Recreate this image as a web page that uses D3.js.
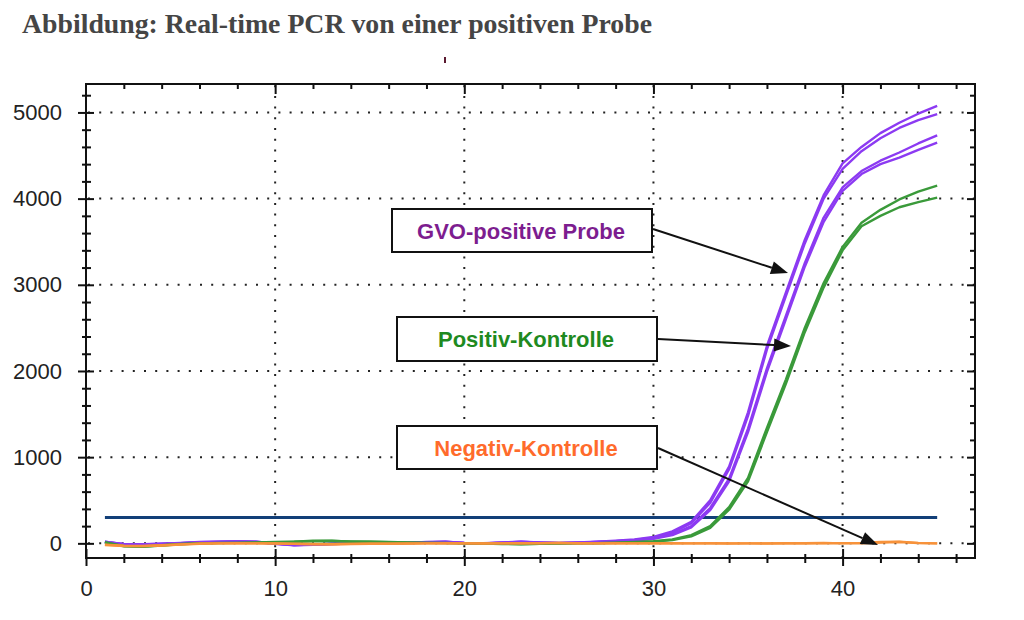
<!DOCTYPE html>
<html>
<head>
<meta charset="utf-8">
<script src="https://cdn.jsdelivr.net/npm/d3@7"></script>
<style>
  html, body { margin: 0; padding: 0; background: #fff; }
  svg { display: block; }
</style>
</head>
<body>
<svg id="chart" width="1024" height="620"></svg>
<script>
// ---------------- DATA ----------------
const cycles = d3.range(1, 46); // 1..45

const gvoA1 = [20,-10,-12,-5,5,15,20,25,20,0,-20,-15,-5,0,0,5,5,15,20,5,0,10,20,10,5,10,18,30,45,75,140,250,500,890,1520,2290,2910,3520,4040,4410,4600,4760,4880,4985,5075];
const gvoA2 = [15,-8,-10,-5,3,12,18,22,18,-2,-18,-12,-5,0,2,5,8,12,15,5,2,8,15,10,5,8,15,25,40,65,125,235,470,860,1480,2250,2870,3480,4000,4345,4550,4700,4820,4910,4980];
const gvoB1 = [18,-12,-15,-8,2,10,15,20,15,-5,-22,-18,-8,-2,0,3,5,10,18,5,0,8,18,8,3,8,15,25,38,58,105,200,410,750,1330,2030,2640,3250,3780,4130,4320,4440,4535,4640,4735];
const gvoB2 = [12,-15,-18,-10,0,8,12,18,12,-5,-20,-15,-8,-2,0,2,4,8,12,3,0,5,12,5,2,5,12,22,33,52,95,185,385,720,1290,1990,2600,3210,3730,4090,4285,4400,4475,4565,4650];

const posK1 = [15,-35,-40,-25,-10,0,5,5,10,15,20,30,30,20,20,15,10,5,5,0,-5,-5,-8,-5,0,0,3,8,15,25,45,95,200,420,760,1340,1900,2500,3020,3440,3720,3870,3990,4080,4150];
const posK2 = [10,-30,-38,-22,-8,0,3,5,8,12,18,25,28,22,18,12,8,5,3,0,-3,-8,-10,-5,-2,0,2,5,10,20,38,82,180,390,720,1290,1850,2450,2970,3400,3680,3800,3900,3960,4012];

const negK1 = [-20,-30,-32,-25,-15,-5,0,0,0,0,-5,-10,-10,-8,-5,-5,-3,0,0,0,0,0,0,2,5,2,0,0,0,2,0,0,2,0,0,-2,0,2,5,0,5,15,20,5,0];
const negK2 = [-15,-28,-30,-22,-12,-3,0,2,0,-2,-6,-8,-10,-6,-4,-3,-2,0,2,0,-2,0,2,3,4,0,0,2,0,0,2,0,0,-2,0,0,2,0,2,3,2,10,15,3,0];

const threshold = 300;

const xMajorTicks = [0, 10, 20, 30, 40];
const xMinorTicks = [2,4,6,8,12,14,16,18,22,24,26,28,32,34,36,38,42,44,46];
const yMajorTicks = [0, 1000, 2000, 3000, 4000, 5000];
const yMinorTicks = [200,400,600,800,1200,1400,1600,1800,2200,2400,2600,2800,3200,3400,3600,3800,4200,4400,4600,4800,5200];

const titleText = "Abbildung: Real-time PCR von einer positiven Probe";
const annotations = [
  { label: "GVO-positive Probe", color: "#7d1d8f", box: [392, 209, 652, 252], from: [653, 229], to: [788, 273] },
  { label: "Positiv-Kontrolle",  color: "#1f8a1f", box: [397, 317, 657, 361], from: [658, 339], to: [791, 346] },
  { label: "Negativ-Kontrolle",  color: "#ff6b2b", box: [397, 426, 657, 469], from: [658, 448], to: [878, 545] }
];

const series = [
  { values: gvoA1, color: "#8c3af2" },
  { values: gvoA2, color: "#8c3af2" },
  { values: gvoB1, color: "#8c3af2" },
  { values: gvoB2, color: "#8c3af2" },
  { values: posK1, color: "#3a9a3a" },
  { values: posK2, color: "#3a9a3a" },
  { values: negK2, color: "#f7923a" },
  { values: negK1, color: "#f7923a" }
];

// ---------------- LAYOUT ----------------
const svg = d3.select("#chart");
const L = 86, R = 975, T = 84, B = 558;

const x = d3.scaleLinear().domain([0, 47]).range([L, R]);
const y = d3.scaleLinear().domain([-170, 5330]).range([B, T]);

// Title
svg.append("text")
  .attr("x", 22).attr("y", 33)
  .attr("font-family", "'Liberation Serif', 'DejaVu Serif', serif")
  .attr("font-weight", "bold")
  .attr("font-size", 28)
  .attr("fill", "#454545")
  .attr("textLength", 630)
  .attr("lengthAdjust", "spacingAndGlyphs")
  .text(titleText);

// tiny mark under title
svg.append("rect").attr("x", 444).attr("y", 57).attr("width", 2).attr("height", 6).attr("fill", "#5a1a30");

// Grid (dotted)
const grid = svg.append("g");
grid.selectAll("line.h").data(yMajorTicks).join("line")
  .attr("x1", L + 2).attr("x2", R)
  .attr("y1", d => y(d)).attr("y2", d => y(d))
  .attr("stroke", "#222").attr("stroke-width", 2)
  .attr("stroke-dasharray", "2 9.2");
grid.selectAll("line.v").data(xMajorTicks.filter(d => d > 0)).join("line")
  .attr("x1", d => x(d)).attr("x2", d => x(d))
  .attr("y1", B).attr("y2", T)
  .attr("stroke", "#222").attr("stroke-width", 2)
  .attr("stroke-dasharray", "2 8.7");

// Threshold line
svg.append("line")
  .attr("x1", x(1)).attr("x2", x(45))
  .attr("y1", y(threshold)).attr("y2", y(threshold))
  .attr("stroke", "#123f78").attr("stroke-width", 3.2);

// Curves
const line = d3.line().x((d, i) => x(cycles[i])).y(d => y(d)).curve(d3.curveLinear);
svg.append("g").selectAll("path").data(series).join("path")
  .attr("d", d => line(d.values))
  .attr("fill", "none")
  .attr("stroke", d => d.color)
  .attr("stroke-width", 2.4)
  .attr("stroke-linejoin", "round");

// Frame
svg.append("rect")
  .attr("x", L).attr("y", T).attr("width", R - L).attr("height", B - T)
  .attr("fill", "none").attr("stroke", "#111").attr("stroke-width", 2);

const fontAxis = "'Liberation Sans', Arial, sans-serif";

// Left axis (major with labels)
const leftAx = svg.append("g").attr("transform", `translate(${L},0)`)
  .call(d3.axisLeft(y).tickValues(yMajorTicks).tickFormat(d3.format("d")).tickSize(8).tickPadding(16));
leftAx.select(".domain").remove();
leftAx.selectAll(".tick line").attr("x1", -8).attr("x2", 8).attr("stroke", "#111").attr("stroke-width", 2);
leftAx.selectAll(".tick text").attr("font-family", fontAxis).attr("font-size", 22).attr("fill", "#222");

const leftMinor = svg.append("g").attr("transform", `translate(${L},0)`)
  .call(d3.axisLeft(y).tickValues(yMinorTicks).tickFormat("").tickSize(4));
leftMinor.select(".domain").remove();
leftMinor.selectAll(".tick line").attr("x1", -4).attr("x2", 5).attr("stroke", "#111").attr("stroke-width", 2);

// Right axis ticks (inside)
const rightAx = svg.append("g").attr("transform", `translate(${R},0)`)
  .call(d3.axisLeft(y).tickValues(yMajorTicks).tickFormat("").tickSize(8));
rightAx.select(".domain").remove();
rightAx.selectAll(".tick line").attr("stroke", "#111").attr("stroke-width", 2);
const rightMinor = svg.append("g").attr("transform", `translate(${R},0)`)
  .call(d3.axisLeft(y).tickValues(yMinorTicks).tickFormat("").tickSize(5));
rightMinor.select(".domain").remove();
rightMinor.selectAll(".tick line").attr("stroke", "#111").attr("stroke-width", 2);

// Bottom axis
const botAx = svg.append("g").attr("transform", `translate(0,${B})`)
  .call(d3.axisBottom(x).tickValues(xMajorTicks).tickFormat(d3.format("d")).tickSize(8).tickPadding(14));
botAx.select(".domain").remove();
botAx.selectAll(".tick line").attr("y1", -9).attr("y2", 8).attr("stroke", "#111").attr("stroke-width", 2);
botAx.selectAll(".tick text").attr("font-family", fontAxis).attr("font-size", 22).attr("fill", "#222");

const botMinor = svg.append("g").attr("transform", `translate(0,${B})`)
  .call(d3.axisBottom(x).tickValues(xMinorTicks).tickFormat("").tickSize(4));
botMinor.select(".domain").remove();
botMinor.selectAll(".tick line").attr("y1", -4).attr("y2", 5).attr("stroke", "#111").attr("stroke-width", 2);

// Top axis ticks (inside)
const topAx = svg.append("g").attr("transform", `translate(0,${T})`)
  .call(d3.axisTop(x).tickValues(xMajorTicks.filter(d => d > 0)).tickFormat("").tickSize(-10));
topAx.select(".domain").remove();
topAx.selectAll(".tick line").attr("stroke", "#111").attr("stroke-width", 2);
const topMinor = svg.append("g").attr("transform", `translate(0,${T})`)
  .call(d3.axisTop(x).tickValues(xMinorTicks).tickFormat("").tickSize(-5));
topMinor.select(".domain").remove();
topMinor.selectAll(".tick line").attr("stroke", "#111").attr("stroke-width", 2);

// Annotations
const ann = svg.append("g");
annotations.forEach(a => {
  const [x0, y0, x1, y1] = a.box;
  ann.append("rect")
    .attr("x", x0).attr("y", y0).attr("width", x1 - x0).attr("height", y1 - y0)
    .attr("fill", "#fff").attr("stroke", "#111").attr("stroke-width", 2);
  ann.append("text")
    .attr("x", (x0 + x1) / 2 - 1).attr("y", (y0 + y1) / 2 + 8)
    .attr("text-anchor", "middle")
    .attr("font-family", fontAxis).attr("font-weight", "bold").attr("font-size", 22)
    .attr("fill", a.color)
    .text(a.label);
  // arrow
  const [fx, fy] = a.from, [tx, ty] = a.to;
  const ang = Math.atan2(ty - fy, tx - fx);
  const len = 17, hw = 6.5;
  const bx = tx - len * Math.cos(ang), by = ty - len * Math.sin(ang);
  ann.append("line")
    .attr("x1", fx).attr("y1", fy).attr("x2", bx).attr("y2", by)
    .attr("stroke", "#111").attr("stroke-width", 2);
  const px = -Math.sin(ang) * hw, py = Math.cos(ang) * hw;
  ann.append("polygon")
    .attr("points", `${tx},${ty} ${bx + px},${by + py} ${bx - px},${by - py}`)
    .attr("fill", "#111");
});
</script>
</body>
</html>
